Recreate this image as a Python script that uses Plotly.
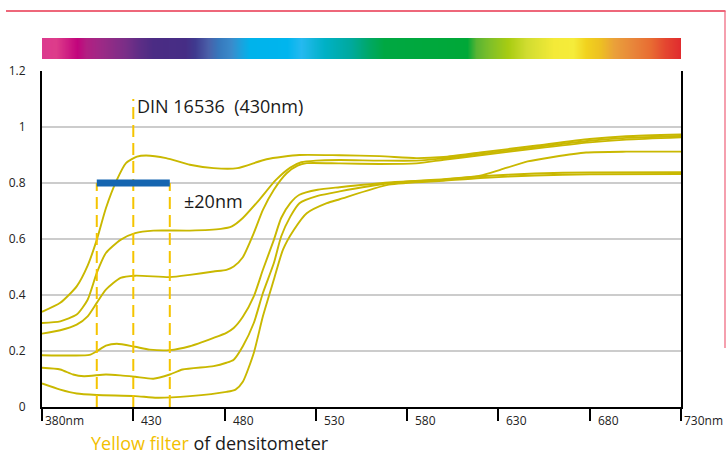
import plotly.graph_objects as go

# ---------------- data ----------------
a_nm = [380, 390, 399, 405, 410, 415, 421, 426, 432, 437, 448, 461, 474, 487, 503, 521, 543, 565, 585, 600, 620, 650, 680, 700, 730]
a_val = [0.34, 0.372, 0.431, 0.505, 0.597, 0.71, 0.811, 0.871, 0.894, 0.898, 0.889, 0.865, 0.853, 0.853, 0.885, 0.9, 0.899, 0.896, 0.889, 0.893, 0.909, 0.933, 0.957, 0.967, 0.973]

b_nm = [380, 390, 399, 405, 410, 415, 423, 431, 441, 461, 478, 484, 490, 499, 508, 516, 522, 530, 543, 565, 585, 600, 620, 650, 680, 700, 730]
b_val = [0.30, 0.306, 0.33, 0.383, 0.479, 0.55, 0.597, 0.621, 0.63, 0.63, 0.636, 0.645, 0.675, 0.74, 0.81, 0.855, 0.874, 0.88, 0.882, 0.88, 0.88, 0.888, 0.904, 0.928, 0.951, 0.961, 0.968]

c_nm = [380, 390, 399, 405, 410, 415, 423, 431, 450, 461, 474, 481, 485, 490, 496, 501, 507, 514, 520, 525, 543, 565, 585, 600, 620, 650, 680, 700, 730]
c_val = [0.262, 0.274, 0.294, 0.324, 0.372, 0.419, 0.461, 0.469, 0.464, 0.472, 0.484, 0.49, 0.502, 0.535, 0.621, 0.704, 0.776, 0.835, 0.862, 0.871, 0.87, 0.868, 0.87, 0.883, 0.899, 0.923, 0.945, 0.955, 0.963]

d_nm = [380, 397, 406, 410, 415, 421, 431, 439, 450, 461, 474, 481, 485, 490, 496, 501, 507, 511, 516, 521, 531, 543, 570, 600, 620, 631, 646, 660, 678, 700, 730]
d_val = [0.185, 0.184, 0.186, 0.199, 0.219, 0.226, 0.215, 0.205, 0.203, 0.217, 0.247, 0.265, 0.282, 0.322, 0.395, 0.49, 0.597, 0.675, 0.728, 0.758, 0.776, 0.785, 0.802, 0.812, 0.826, 0.847, 0.877, 0.893, 0.909, 0.912, 0.912]

e_nm = [380, 390, 397, 403, 415, 423, 431, 441, 450, 457, 474, 481, 485, 490, 496, 501, 507, 511, 516, 521, 531, 543, 570, 600, 620, 650, 680, 730]
e_val = [0.14, 0.134, 0.116, 0.11, 0.116, 0.113, 0.108, 0.101, 0.116, 0.134, 0.146, 0.158, 0.169, 0.217, 0.3, 0.407, 0.514, 0.609, 0.68, 0.728, 0.754, 0.77, 0.799, 0.814, 0.824, 0.834, 0.838, 0.839]

f_nm = [380, 390, 399, 410, 431, 443, 461, 481, 486, 490, 496, 501, 507, 512, 518, 525, 536, 543, 570, 600, 620, 650, 680, 730]
f_val = [0.084, 0.062, 0.048, 0.043, 0.039, 0.033, 0.039, 0.054, 0.062, 0.09, 0.193, 0.324, 0.455, 0.562, 0.633, 0.692, 0.728, 0.742, 0.794, 0.808, 0.818, 0.827, 0.831, 0.832]

x_ticks = [380, 430, 480, 530, 580, 630, 680, 730]
x_tick_labels = ["380nm", "430", "480", "530", "580", "630", "680", "730nm"]
y_ticks = [0, 0.2, 0.4, 0.6, 0.8, 1.0, 1.2]
y_tick_labels = ["0", "0.2", "0.4", "0.6", "0.8", "1", "1.2"]

din_center = 430
band = [410, 450]
band_level = 0.8
din_top = 1.1

spectrum_stops = [
    (0.0, "#DC3A8E"), (0.022, "#DD3C8A"), (0.055, "#C2047C"), (0.069, "#B21F82"),
    (0.0945, "#9B2A86"), (0.1306, "#7A2E87"), (0.152, "#5E2D86"), (0.174, "#4B2C84"),
    (0.224, "#462D85"), (0.239, "#3F3A8F"), (0.2605, "#4A60A9"), (0.275, "#3677BC"),
    (0.2965, "#3A8BCB"), (0.311, "#1BA2DE"), (0.325, "#00B3EB"), (0.383, "#00B5EE"),
    (0.405, "#25B9F0"), (0.441, "#00B1C6"), (0.484, "#00A99C"), (0.513, "#00A862"),
    (0.5346, "#00A842"), (0.6645, "#00A838"), (0.679, "#58B433"), (0.7006, "#80C028"),
    (0.7294, "#A8CC12"), (0.758, "#D0DC30"), (0.8016, "#F4EA38"), (0.8304, "#F5EC3A"),
    (0.852, "#F1D21E"), (0.8737, "#EDC022"), (0.8954, "#EAA03A"), (0.9242, "#E8853A"),
    (0.953, "#E86A32"), (0.9747, "#E44630"), (1.0, "#E02A2E"),
]

# ---------------- layout geometry ----------------
W, H = 726, 454
ML, MR, MT, MB = 42, 45, 10, 47
PW = W - ML - MR
PH = H - MT - MB
PLOT_TOP = 71


def xp(px):
    return (px - ML) / PW


def yp(py):
    return (H - MB - py) / PH


LINE_COLOR = "#C9B800"
DASH_COLOR = "#F5C400"
FONT = "Open Sans"

fig = go.Figure()

for nm, val in [(a_nm, a_val), (b_nm, b_val), (c_nm, c_val), (d_nm, d_val), (e_nm, e_val), (f_nm, f_val)]:
    fig.add_trace(go.Scatter(x=nm, y=val, mode="lines",
                             line=dict(color=LINE_COLOR, width=1.9, shape="spline", smoothing=0.6),
                             hoverinfo="skip", showlegend=False))

# spectrum bar
pos = [s[0] for s in spectrum_stops]
fig.add_trace(go.Heatmap(x=pos, y=[0], z=[pos], xaxis="x2", yaxis="y2",
                         colorscale=[[p, c] for p, c in spectrum_stops], zmin=0, zmax=1,
                         zsmooth="best", showscale=False, hoverinfo="skip"))

shapes = []
shapes.append(dict(type="line", xref="x", yref="y", x0=din_center, x1=din_center, y0=0, y1=din_top,
                   line=dict(color=DASH_COLOR, width=2, dash="12px,6px"), layer="above"))
for b in band:
    shapes.append(dict(type="line", xref="x", yref="y", x0=b, x1=b, y0=0, y1=band_level,
                       line=dict(color=DASH_COLOR, width=2, dash="12px,6px"), layer="above"))
shapes.append(dict(type="line", xref="x", yref="y", x0=band[0], x1=band[1], y0=band_level, y1=band_level,
                   line=dict(color="#1565B0", width=7), layer="above"))
shapes.append(dict(type="line", xref="paper", yref="paper", x0=xp(6), x1=xp(725.5), y0=yp(11), y1=yp(11),
                   line=dict(color="#E8344E", width=1.5)))
shapes.append(dict(type="line", xref="paper", yref="paper", x0=xp(725), x1=xp(725), y0=yp(11), y1=yp(348),
                   line=dict(color="#EE6078", width=1.2)))

annotations = []
for v, t in zip(x_ticks, x_tick_labels):
    annotations.append(dict(x=v, y=0, xref="x", yref="y", text=t, showarrow=False,
                            xanchor="left", yanchor="top", xshift=(1 if t.endswith("nm") else 6), yshift=-3,
                            font=dict(family=FONT, size=12, color="#222")))

annotations.append(dict(x=din_center, y=din_top, xref="x", yref="y", text="DIN 16536  (430nm)",
                        showarrow=False, xanchor="left", yanchor="top", xshift=2, yshift=7,
                        font=dict(family=FONT, size=18, color="#1a1a1a")))
annotations.append(dict(x=band[1], y=band_level, xref="x", yref="y", text="±20nm",
                        showarrow=False, xanchor="left", yanchor="top", xshift=12, yshift=-4,
                        font=dict(family=FONT, size=18, color="#1a1a1a")))
annotations.append(dict(x=xp(89), y=yp(443), xref="paper", yref="paper",
                        text="<span style='color:#F2C000'>Yellow filter</span> of densitometer",
                        showarrow=False, xanchor="left", yanchor="middle",
                        font=dict(family=FONT, size=18, color="#1a1a1a")))

fig.update_layout(
    width=W, height=H, autosize=False,
    margin=dict(l=ML, r=MR, t=MT, b=MB, pad=0, autoexpand=False),
    paper_bgcolor="white", plot_bgcolor="white",
    showlegend=False,
    xaxis=dict(range=[380, 730], tickvals=x_ticks, showticklabels=False, ticks="outside",
               ticklen=12, tickwidth=2, tickcolor="black", showgrid=False, zeroline=False,
               showline=True, linecolor="black", linewidth=2, fixedrange=True, automargin=False),
    yaxis=dict(range=[0, 1.2], domain=[0, yp(PLOT_TOP)], tickvals=y_ticks, ticktext=y_tick_labels,
               showgrid=True, gridcolor="#CCCCCC", gridwidth=1.5, zeroline=False,
               showline=True, mirror=True, linecolor="black", linewidth=2, ticks="",
               ticklabelstandoff=12, tickfont=dict(family=FONT, size=12, color="#222"),
               fixedrange=True, automargin=False),
    xaxis2=dict(domain=[0, 1], range=[0, 1], anchor="y2", visible=False, fixedrange=True),
    yaxis2=dict(domain=[yp(59), yp(38)], range=[-0.5, 0.5], anchor="x2", visible=False, fixedrange=True),
    shapes=shapes,
    annotations=annotations,
)

fig.write_html("out.html")
